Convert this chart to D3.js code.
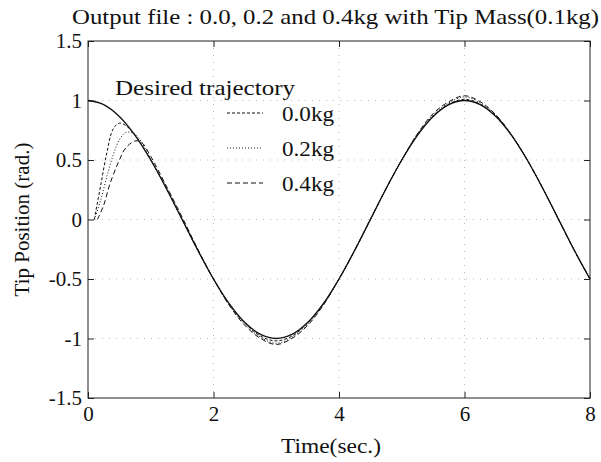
<!DOCTYPE html>
<html>
<head>
<meta charset="utf-8">
<script src="https://cdn.jsdelivr.net/npm/d3@7"></script>
<style>
  body { margin: 0; background: #fff; }
  text { font-family: "Liberation Serif", "DejaVu Serif", serif; fill: #111; }
</style>
</head>
<body>
<script>
/* DATA */
var xTicks = [0, 2, 4, 6, 8];
var yTicks = [-1.5, -1, -0.5, 0, 0.5, 1, 1.5];
var legendLabels = ["0.0kg", "0.2kg", "0.4kg"];

// desired trajectory
var desiredTime = [0, 0.25, 0.5, 0.75, 1, 1.25, 1.5, 1.75, 2, 2.25, 2.5, 2.75, 3, 3.25, 3.5, 3.75, 4,
  4.25, 4.5, 4.75, 5, 5.25, 5.5, 5.75, 6, 6.25, 6.5, 6.75, 7, 7.25, 7.5, 7.75, 8];
var desiredPos = [1, 0.966, 0.866, 0.707, 0.5, 0.259, 0, -0.259, -0.5, -0.707, -0.866, -0.966, -1,
  -0.966, -0.866, -0.707, -0.5, -0.259, 0, 0.259, 0.5, 0.707, 0.866, 0.966, 1, 0.966, 0.866, 0.707,
  0.5, 0.259, 0, -0.259, -0.5];

// 0.0kg output
var time00 = [0.1, 0.2, 0.3, 0.4, 0.5, 0.6, 0.75, 1, 1.25, 1.5, 1.75, 2, 2.25, 2.5, 2.75, 3, 3.25, 3.5,
  3.75, 4, 4.25, 4.5, 4.75, 5, 5.25, 5.5, 5.75, 6, 6.25, 6.5, 6.75, 7, 7.25, 7.5, 7.75, 8];
var pos00 = [0, 0.28, 0.56, 0.76, 0.81, 0.79, 0.71, 0.5, 0.26, 0, -0.26, -0.5, -0.71, -0.87, -0.98,
  -1.02, -0.98, -0.87, -0.71, -0.5, -0.26, 0, 0.26, 0.5, 0.71, 0.87, 0.97, 1.01, 0.97, 0.87, 0.71,
  0.5, 0.26, 0, -0.26, -0.5];

// 0.2kg output
var time02 = [0.1, 0.2, 0.3, 0.4, 0.5, 0.6, 0.7, 0.8, 1, 1.25, 1.5, 1.75, 2, 2.25, 2.5, 2.75, 3, 3.25,
  3.5, 3.75, 4, 4.25, 4.5, 4.75, 5, 5.25, 5.5, 5.75, 6, 6.25, 6.5, 6.75, 7, 7.25, 7.5, 7.75, 8];
var pos02 = [0, 0.16, 0.36, 0.54, 0.67, 0.73, 0.73, 0.69, 0.51, 0.27, 0.01, -0.25, -0.5, -0.72,
  -0.88, -0.99, -1.04, -0.99, -0.88, -0.72, -0.5, -0.26, 0, 0.26, 0.5, 0.72, 0.88, 0.98, 1.03, 0.98,
  0.88, 0.71, 0.5, 0.26, 0, -0.26, -0.5];

// 0.4kg output
var time04 = [0.15, 0.25, 0.35, 0.5, 0.6, 0.75, 0.85, 1, 1.25, 1.5, 1.75, 2, 2.25, 2.5, 2.75, 3, 3.25,
  3.5, 3.75, 4, 4.25, 4.5, 4.75, 5, 5.25, 5.5, 5.75, 6, 6.25, 6.5, 6.75, 7, 7.25, 7.5, 7.75, 8];
var pos04 = [0, 0.12, 0.3, 0.5, 0.6, 0.66, 0.65, 0.53, 0.28, 0.02, -0.25, -0.5, -0.72, -0.89, -1.0,
  -1.05, -1.0, -0.89, -0.72, -0.5, -0.26, 0, 0.26, 0.5, 0.72, 0.89, 0.99, 1.04, 0.99, 0.88, 0.71,
  0.5, 0.26, 0, -0.26, -0.5];

/* LAYOUT */
var W = 601, H = 462;
var margin = {top: 41, right: 11, bottom: 64, left: 88},
    width = W - margin.left - margin.right,
    height = H - margin.top - margin.bottom;

var x = d3.scaleLinear().domain([0, 8]).range([0, width]);
var y = d3.scaleLinear().domain([-1.5, 1.5]).range([height, 0]);

var svg = d3.select("body").append("svg")
    .attr("width", W)
    .attr("height", H);

var g = svg.append("g")
    .attr("transform", "translate(" + margin.left + "," + margin.top + ")");

// dotted grid
g.append("g").selectAll("line")
    .data(xTicks.slice(1, -1))
  .enter().append("line")
    .attr("x1", d => x(d)).attr("x2", d => x(d))
    .attr("y1", 0).attr("y2", height)
    .attr("stroke", "#aaa").attr("stroke-width", 0.8)
    .attr("stroke-dasharray", "1,6");
g.append("g").selectAll("line")
    .data(yTicks.slice(1, -1))
  .enter().append("line")
    .attr("y1", d => y(d)).attr("y2", d => y(d))
    .attr("x1", 0).attr("x2", width)
    .attr("stroke", "#aaa").attr("stroke-width", 0.8)
    .attr("stroke-dasharray", "1,6");

// axes, ticks pointing inward
function styleAxis(sel) {
  sel.select(".domain").remove();
  sel.selectAll("line").attr("stroke", "#222");
  sel.selectAll("text").style("font-size", "21px")
    .style("font-family", "'Liberation Serif', serif").attr("fill", "#111");
}
g.append("g")
    .attr("transform", "translate(0," + height + ")")
    .call(d3.axisBottom(x).tickValues(xTicks).tickSize(-6).tickPadding(8).tickFormat(d3.format("d")))
    .call(styleAxis);
g.append("g")
    .call(d3.axisLeft(y).tickValues(yTicks).tickSize(-6).tickPadding(6).tickFormat(d => String(d)))
    .call(styleAxis);
g.append("g")
    .call(d3.axisTop(x).tickValues(xTicks).tickSize(-6).tickFormat(""))
    .call(styleAxis);
g.append("g")
    .attr("transform", "translate(" + width + ",0)")
    .call(d3.axisRight(y).tickValues(yTicks).tickSize(-6).tickFormat(""))
    .call(styleAxis);

// frame
g.append("rect")
    .attr("width", width).attr("height", height)
    .attr("fill", "none").attr("stroke", "#222").attr("stroke-width", 1);

// lines
var line = d3.line()
    .x(d => x(d[0]))
    .y(d => y(d[1]))
    .curve(d3.curveCatmullRom);

var series = [
  {t: desiredTime, v: desiredPos, dash: null, w: 1.3},
  {t: time00, v: pos00, dash: "3,2", w: 1},
  {t: time02, v: pos02, dash: "1,2", w: 1},
  {t: time04, v: pos04, dash: "5,3", w: 1}
];

series.forEach(function(s) {
  g.append("path")
      .datum(d3.zip(s.t, s.v))
      .attr("fill", "none")
      .attr("stroke", "#111")
      .attr("stroke-width", s.w)
      .attr("stroke-dasharray", s.dash)
      .attr("d", line);
});

// legend
svg.append("text")
    .attr("x", 115).attr("y", 95)
    .attr("textLength", 180).attr("lengthAdjust", "spacingAndGlyphs")
    .style("font-size", "22px")
    .text("Desired trajectory");

var legY = [113, 148, 183];
legendLabels.forEach(function(lbl, i) {
  svg.append("line")
      .attr("x1", 227).attr("x2", 263)
      .attr("y1", legY[i]).attr("y2", legY[i])
      .attr("stroke", "#111").attr("stroke-width", 1)
      .attr("stroke-dasharray", series[i + 1].dash);
  svg.append("text")
      .attr("x", 282).attr("y", legY[i])
      .attr("dy", "0.35em")
      .attr("textLength", 52).attr("lengthAdjust", "spacingAndGlyphs")
      .style("font-size", "22px")
      .text(lbl);
});

// title and axis labels
svg.append("text")
    .attr("x", 72).attr("y", 24)
    .attr("textLength", 527).attr("lengthAdjust", "spacingAndGlyphs")
    .style("font-size", "21px")
    .text("Output file : 0.0, 0.2 and 0.4kg with Tip Mass(0.1kg)");

svg.append("text")
    .attr("x", 281).attr("y", 453)
    .attr("textLength", 100).attr("lengthAdjust", "spacingAndGlyphs")
    .style("font-size", "22px")
    .text("Time(sec.)");

svg.append("text")
    .attr("transform", "translate(29," + (margin.top + height / 2) + ") rotate(-90)")
    .style("text-anchor", "middle")
    .style("font-size", "21px")
    .text("Tip Position (rad.)");
</script>
</body>
</html>
